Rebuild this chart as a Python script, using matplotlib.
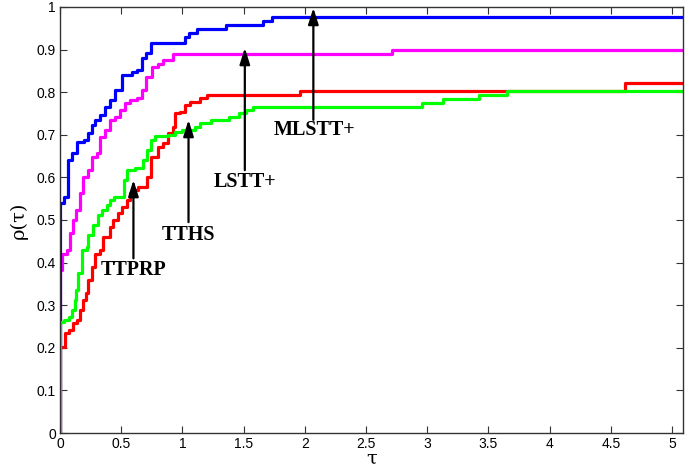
import matplotlib
matplotlib.use("Agg")
import matplotlib.pyplot as plt
from matplotlib.ticker import FormatStrFormatter, MultipleLocator

# performance profiles: tau (log2 scale) and rho(tau), step post
tau_mlstt = [0, 0, 0.03, 0.065, 0.10, 0.14, 0.20, 0.23, 0.26, 0.29, 0.33, 0.37, 0.41,
             0.45, 0.51, 0.59, 0.63, 0.67, 0.70, 0.74, 1.02, 1.05, 1.12, 1.36, 1.66,
             1.73, 5.09]
rho_mlstt = [0, 0.54, 0.554, 0.64, 0.657, 0.683, 0.688, 0.704, 0.723, 0.735, 0.746,
             0.765, 0.782, 0.805, 0.84, 0.847, 0.852, 0.88, 0.892, 0.916, 0.93, 0.939,
             0.948, 0.958, 0.967, 0.977, 0.977]

tau_lstt = [0, 0, 0.02, 0.06, 0.08, 0.11, 0.13, 0.16, 0.19, 0.23, 0.26, 0.30, 0.33,
            0.37, 0.41, 0.45, 0.49, 0.53, 0.57, 0.63, 0.67, 0.70, 0.75, 0.80, 0.84,
            0.92, 2.71, 5.09]
rho_lstt = [0, 0.383, 0.42, 0.43, 0.47, 0.50, 0.523, 0.563, 0.601, 0.617, 0.648,
            0.657, 0.695, 0.711, 0.735, 0.742, 0.758, 0.775, 0.782, 0.786, 0.805,
            0.836, 0.859, 0.866, 0.875, 0.89, 0.899, 0.899]

tau_tths = [0, 0, 0.04, 0.07, 0.11, 0.14, 0.16, 0.19, 0.21, 0.23, 0.26, 0.29, 0.33,
            0.35, 0.41, 0.43, 0.47, 0.51, 0.55, 0.57, 0.59, 0.64, 0.71, 0.74, 0.80,
            0.84, 0.88, 0.92, 0.94, 0.98, 1.02, 1.06, 1.14, 1.20, 1.96, 4.62, 5.09]
rho_tths = [0, 0.202, 0.235, 0.242, 0.258, 0.265, 0.289, 0.312, 0.329, 0.36, 0.39,
            0.42, 0.43, 0.46, 0.484, 0.50, 0.516, 0.53, 0.547, 0.563, 0.57, 0.577,
            0.601, 0.648, 0.671, 0.68, 0.704, 0.718, 0.751, 0.754, 0.77, 0.777,
            0.786, 0.793, 0.803, 0.822, 0.822]

tau_ttprp = [0, 0, 0.03, 0.07, 0.10, 0.12, 0.13, 0.15, 0.18, 0.22, 0.23, 0.27, 0.31,
             0.34, 0.38, 0.41, 0.44, 0.52, 0.55, 0.61, 0.68, 0.71, 0.74, 0.78, 0.88,
             0.94, 1.00, 1.10, 1.14, 1.23, 1.38, 1.46, 1.52, 1.58, 2.96, 3.13, 3.42,
             3.65, 5.09]
rho_ttprp = [0, 0.26, 0.265, 0.273, 0.289, 0.312, 0.336, 0.376, 0.43, 0.437, 0.465,
             0.488, 0.512, 0.523, 0.535, 0.547, 0.554, 0.594, 0.617, 0.622, 0.641,
             0.664, 0.688, 0.697, 0.70, 0.707, 0.711, 0.718, 0.728, 0.735, 0.742,
             0.751, 0.758, 0.765, 0.775, 0.784, 0.793, 0.803, 0.803]

# label, text position, arrow tail, arrow tip
labels = ["TTPRP", "TTHS", "LSTT+", "MLSTT+"]
text_xy = [(0.60, 0.383), (1.05, 0.465), (1.51, 0.589), (2.08, 0.711)]
arrow_tail = [(0.60, 0.41), (1.05, 0.495), (1.51, 0.617), (2.07, 0.735)]
arrow_tip = [(0.60, 0.594), (1.05, 0.735), (1.51, 0.904), (2.07, 0.998)]

fig = plt.figure(figsize=(6.85, 4.69), dpi=100)
ax = fig.add_axes([60 / 685, 36 / 469, 623 / 685, 426 / 469])

lw = 2.3
ax.step(tau_tths, rho_tths, where="post", color="#ff0000", lw=lw)
ax.step(tau_lstt, rho_lstt, where="post", color="#ff00ff", lw=lw)
ax.step(tau_mlstt, rho_mlstt, where="post", color="#0000ff", lw=lw)
ax.step(tau_ttprp, rho_ttprp, where="post", color="#00ff00", lw=lw)

for lab, txy, tail, tip in zip(labels, text_xy, arrow_tail, arrow_tip):
    ax.annotate("", xy=tip, xytext=tail,
                arrowprops=dict(arrowstyle="-|>,head_width=0.22,head_length=0.7",
                                color="black", lw=1.6, mutation_scale=14,
                                shrinkA=0, shrinkB=0))
    ax.text(txy[0], txy[1], lab, ha="center", va="center", fontsize=14.5,
            fontweight="bold", family="Liberation Serif")

ax.set_xlim(0, 5.09)
ax.set_ylim(0, 1)
ax.xaxis.set_major_locator(MultipleLocator(0.5))
ax.yaxis.set_major_locator(MultipleLocator(0.1))
ax.xaxis.set_major_formatter(FormatStrFormatter("%g"))
ax.yaxis.set_major_formatter(FormatStrFormatter("%g"))
ax.tick_params(direction="in", top=True, right=True, length=5, width=0.8,
               labelsize=10, color="#333333", pad=3)
for lbl in ax.get_xticklabels() + ax.get_yticklabels():
    lbl.set_family("Liberation Sans")
for s in ax.spines.values():
    s.set_color("#333333")
    s.set_linewidth(1.0)

ax.set_xlabel("τ", fontsize=14, family="DejaVu Serif", labelpad=-1)
ax.set_ylabel("ρ(τ)", fontsize=14, family="DejaVu Serif", labelpad=6)

fig.savefig("out.png", dpi=100)
